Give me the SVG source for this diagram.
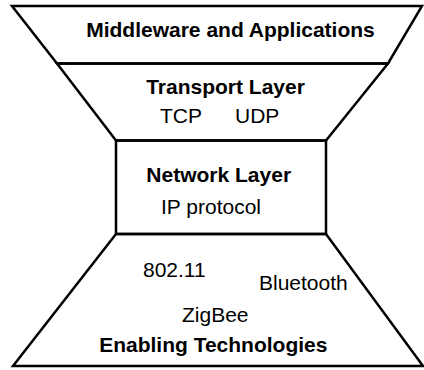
<svg xmlns="http://www.w3.org/2000/svg" width="424" height="370" viewBox="0 0 424 370">
  <style>
    .shape { fill: none; stroke: #000; stroke-width: 2.5; stroke-linejoin: miter; }
    .t { font-family: "Liberation Sans", Arial, sans-serif; font-size: 21px; fill: #000; }
    .b { font-weight: bold; }
    .c { text-anchor: middle; }
  </style>
  <rect width="424" height="370" fill="#fff"/>

  <!-- Top layer: middleware / applications -->
  <g id="middleware">
    <polygon class="shape" points="12,6 422,6 388,63.5 57,63.5"/>
    <text class="t b c" x="230.5" y="37">Middleware and Applications</text>
  </g>

  <!-- Transport layer -->
  <g id="transport">
    <polygon class="shape" points="57,63.5 388,63.5 326,140.5 116,140.5"/>
    <text class="t b c" x="225.5" y="94">Transport Layer</text>
    <text class="t" y="123"><tspan x="160">TCP</tspan><tspan x="235">UDP</tspan></text>
  </g>

  <!-- Network layer (narrow waist) -->
  <g id="network">
    <rect class="shape" x="116" y="140.5" width="210" height="93.5"/>
    <text class="t b c" x="218.7" y="182">Network Layer</text>
    <text class="t" x="161" y="214">IP protocol</text>
  </g>

  <!-- Bottom layer: enabling technologies -->
  <g id="enabling">
    <polygon class="shape" points="116,234 326,234 423,366 13,366"/>
    <text class="t" x="143" y="277">802.11</text>
    <text class="t" x="259" y="290">Bluetooth</text>
    <text class="t" x="182" y="322">ZigBee</text>
    <text class="t b c" x="213.3" y="352">Enabling Technologies</text>
  </g>

  <g id="connectors"/>
</svg>
